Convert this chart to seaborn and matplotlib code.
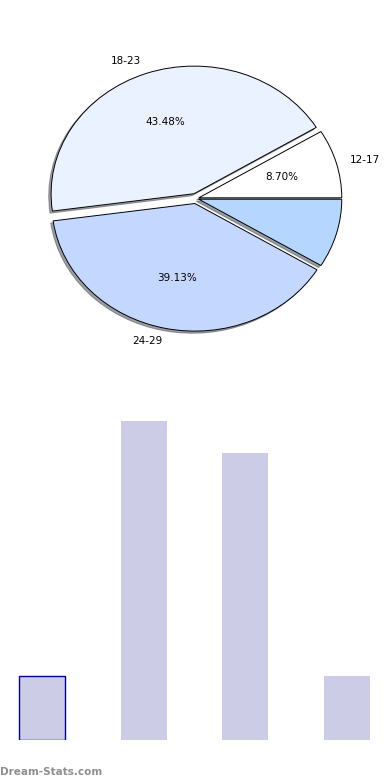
import matplotlib
matplotlib.use("Agg")
import matplotlib.pyplot as plt
import seaborn as sns

# ---- data ----
categories = ["12-17", "18-23", "24-29", "30+"]
pie_labels = ["12-17", "18-23", "24-29", ""]
counts = [2, 10, 9, 2]
pie_colors = ["#FFFFFF", "#EAF1FF", "#C4D8FF", "#B4D6FF"]
explode = [0.02, 0.04, 0.04, 0.02]
bar_color = "#CCCCE6"
watermark = "Dream-Stats.com"

sns.set_style("white")
plt.rcParams["font.family"] = ["DejaVu Sans"]

fig = plt.figure(figsize=(3.9, 7.8), dpi=100)

# ---- pie ----
ax1 = fig.add_axes([0.0442, 0.541, 0.9167, 0.409])
wedges, texts, autotexts = ax1.pie(
    counts, labels=pie_labels, colors=pie_colors, explode=explode,
    autopct="%1.2f%%", shadow=dict(ox=-0.012, oy=-0.012), startangle=0,
    wedgeprops=dict(edgecolor="black", linewidth=0.7),
    textprops=dict(fontsize=7.5, color="black"),
)
for lab, at in zip(pie_labels, autotexts):
    if lab == "":
        at.set_text("")
ax1.set_aspect("auto")
ax1.set_xlim(-1.25, 1.25)
ax1.set_ylim(-1.25, 1.25)
ax1.axis("off")

# ---- bars ----
ax2 = fig.add_axes([0.0, 40 / 780, 1.0, 340 / 780])
sns.barplot(x=categories, y=counts, color=bar_color, saturation=1,
            width=0.45, ax=ax2)
for p in ax2.patches:
    p.set_linewidth(0)
ax2.patches[0].set_edgecolor("#00009A")
ax2.patches[0].set_linewidth(1.0)
ax2.set_xlim(-0.413, 3.423)
ax2.set_ylim(0, 10.66)
ax2.axis("off")

fig.text(0.0, 3 / 780, watermark, fontsize=7.5, fontweight="bold",
         color="#8F8F8F", ha="left", va="bottom")

fig.savefig("out.png", dpi=100)
